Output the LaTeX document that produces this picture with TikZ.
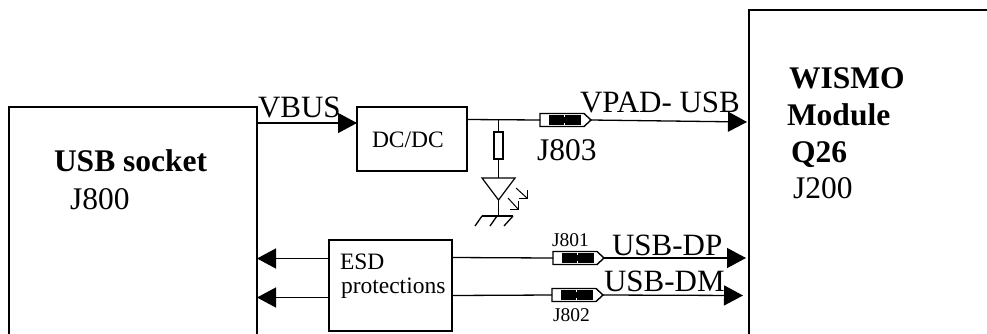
\documentclass[tikz,border=0pt]{standalone}
\usepackage{fontspec}
\setmainfont{Liberation Serif}
\usetikzlibrary{arrows.meta}
\tikzset{
  every node/.style={inner sep=0pt,outer sep=0pt},
  blockbox/.style={draw,line width=1.8pt,anchor=north west},
  wire/.style={line width=1.3pt},
  arrowwire/.style={wire,-{Triangle[length=19pt,width=20pt]}},
  lab/.style={anchor=base west},
  big/.style={lab,font=\fontsize{31.5}{31.5}\selectfont},
  bigbold/.style={lab,font=\bfseries\fontsize{31.5}{31.5}\selectfont},
  sig/.style={lab,font=\fontsize{31}{31}\selectfont},
  mid/.style={lab,font=\fontsize{23.5}{23.5}\selectfont},
  tiny/.style={lab,font=\fontsize{19.5}{19.5}\selectfont},
  jumper/.pic={
    \draw[line width=1.4pt,fill=white] (0,-6.5) -- (44,-6.5) -- (51,0) -- (44,6.5) -- (0,6.5) -- cycle;
    \fill (9,-5) rectangle (41,5);
    \fill[white] (23.5,-5) rectangle (25,-3);
    \fill[white] (23.5,5) rectangle (25,3);
    \coordinate (-in) at (0,0);
    \coordinate (-out) at (51,0);
  }
}
\begin{document}
\begin{tikzpicture}[x=1pt,y=-1pt]
\useasboundingbox (0,0) rectangle (987,333);
\clip (0,0) rectangle (987,333);
\node[blockbox,minimum width=248pt,minimum height=260pt] (usb) at (9,107) {};
\node[blockbox,minimum width=300pt,minimum height=360pt] (wismo) at (749,10) {};
\node[blockbox,minimum width=110pt,minimum height=64pt] (dc) at (357,107) {};
\node[blockbox,minimum width=123pt,minimum height=91pt] (esd) at (329,240) {};
\node[draw,line width=1.2pt,minimum width=9pt,minimum height=27pt] (res) at (498.5,145.5) {};

\coordinate (usbV) at (usb.north east |- 0,123);
\coordinate (dcV) at (dc.west |- 0,123);
\draw[arrowwire] (usbV) -- (dcV);

% J803 branch
\pic (j3) at (540,120) {jumper};
\coordinate (dcOut) at (dc.east |- 0,119.5);
\coordinate (wis3) at (wismo.west |- 0,122);
\draw[wire] (dcOut) -- (j3-in);
\draw[arrowwire] (j3-out) -- ([xshift=-2pt]wis3);

% LED and ground
\coordinate (tap) at (res.north |- 0,119.5);
\coordinate (ledtop) at (498.5,178);
\coordinate (ledtip) at (498.5,200);
\coordinate (gnd) at (498.5,216);
\draw[wire] (tap) -- (res.north);
\draw[wire] (res.south) -- (ledtop);
\draw[line width=1.2pt] (482,178) -- (515,178) -- (ledtip) -- cycle;
\draw[wire] (ledtip) -- (gnd);
\draw[wire] (482,216) -- (513,216);
\draw[wire] (482,216) -- (475,226);
\draw[wire] (497,216) -- (490,226);
\draw[wire] (513,216) -- (504,226);
\draw[line width=1pt] (516,188) -- (527,198);
\draw[line width=1pt] (527,190) -- (527,198) -- (519,198);
\draw[line width=1pt] (508,198) -- (518,209);
\draw[line width=1pt] (518,201) -- (518,209) -- (510,209);

% USB-DP / DM
\pic (j1) at (553,258) {jumper};
\pic (j2) at (552,295) {jumper};
\coordinate (esdA) at (esd.east |- 0,257.5);
\coordinate (esdB) at (esd.east |- 0,295.5);
\coordinate (wisA) at (wismo.west |- 0,258);
\coordinate (wisB) at (wismo.west |- 0,295.5);
\draw[wire] (esdA) -- (j1-in);
\draw[wire] (esdB) -- (j2-in);
\draw[arrowwire] (j1-out) -- ([xshift=-3pt]wisA);
\draw[arrowwire] (j2-out) -- ([xshift=-6pt]wisB);

\coordinate (esdL1) at (esd.west |- 0,258.5);
\coordinate (esdL2) at (esd.west |- 0,297.5);
\coordinate (usbR1) at (usb.east |- 0,258.5);
\coordinate (usbR2) at (usb.east |- 0,297.5);
\draw[arrowwire] (esdL1) -- (usbR1);
\draw[arrowwire] (esdL2) -- (usbR2);

% Labels
\node[bigbold] (t1) at (54,171) {USB socket};
\node[big] (t2) at (70,209) {J800};
\node[bigbold] (t3) at (789,88) {WISMO};
\node[bigbold] (t4) at (787,125) {Module};
\node[bigbold] (t5) at (791,162) {Q26};
\node[big] (t6) at (793,198) {J200};
\node[sig] (t7) at (258,117) {VBUS};
\node[sig] (t8) at (580,112) {VPAD- USB};
\node[big] (t9) at (537,160) {J803};
\node[mid] (t10) at (372,147) {DC/DC};
\node[mid] (t11) at (340,269) {ESD};
\node[mid] (t12) at (341,293) {protections};
\node[tiny] (t13) at (552,246) {J801};
\node[tiny] (t14) at (553,321) {J802};
\node[sig] (t15) at (612,255) {USB-DP};
\node[sig] (t16) at (604,291) {USB-DM};
\end{tikzpicture}
\end{document}
